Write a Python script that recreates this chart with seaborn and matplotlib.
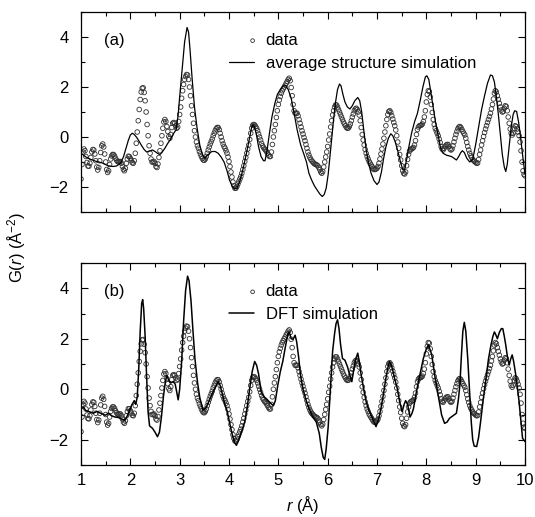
import numpy as np
import pandas as pd
import matplotlib
matplotlib.use('Agg')
import matplotlib.pyplot as plt
import seaborn as sns
from matplotlib.ticker import MultipleLocator
from matplotlib.collections import PathCollection
from matplotlib.legend_handler import HandlerPathCollection

# measured G(r), sampled every 0.02 A from 1.00 to 10.00
g_data = [
    -1.68, -1.10, -0.60, -0.48, -0.55, -0.78, -1.02, -1.16, -1.17, -1.05,
    -0.82, -0.60, -0.50, -0.52, -0.68, -0.95, -1.20, -1.32, -1.22, -0.95,
    -0.62, -0.35, -0.28, -0.40, -0.68, -1.00, -1.30, -1.42, -1.35, -1.10,
    -0.88, -0.76, -0.70, -0.70, -0.76, -0.85, -0.93, -0.98, -1.00, -0.98,
    -0.98, -1.05, -1.18, -1.30, -1.35, -1.25, -1.05, -0.88, -0.77, -0.78,
    -0.85, -0.95, -1.03, -1.05, -0.95, -0.65, -0.25, 0.20, 0.65, 1.10,
    1.50, 1.80, 1.95, 1.97, 1.78, 1.45, 1.00, 0.50, 0.05, -0.35,
    -0.65, -0.88, -1.00, -1.00, -0.98, -1.05, -1.18, -1.22, -1.08, -0.82,
    -0.55, -0.25, 0.05, 0.35, 0.60, 0.70, 0.62, 0.42, 0.22, 0.02,
    -0.05, 0.10, 0.38, 0.55, 0.58, 0.55, 0.45, 0.35, 0.40, 0.62,
    0.90, 1.20, 1.55, 1.85, 2.10, 2.30, 2.42, 2.50, 2.48, 2.30,
    2.00, 1.65, 1.25, 0.90, 0.55, 0.25, 0.00, -0.20, -0.35, -0.45,
    -0.58, -0.68, -0.78, -0.86, -0.92, -0.93, -0.88, -0.78, -0.65, -0.52,
    -0.40, -0.28, -0.18, -0.08, 0.05, 0.15, 0.25, 0.33, 0.38, 0.38,
    0.30, 0.15, 0.00, -0.15, -0.28, -0.38, -0.45, -0.55, -0.65, -0.80,
    -0.98, -1.18, -1.40, -1.60, -1.80, -1.95, -2.05, -2.05, -1.98, -1.88,
    -1.78, -1.68, -1.58, -1.45, -1.30, -1.15, -0.98, -0.82, -0.65, -0.48,
    -0.32, -0.10, 0.15, 0.35, 0.47, 0.50, 0.48, 0.42, 0.35, 0.25,
    0.12, 0.00, -0.12, -0.25, -0.35, -0.42, -0.48, -0.52, -0.58, -0.65,
    -0.72, -0.78, -0.78, -0.60, -0.30, 0.00, 0.25, 0.50, 0.78, 1.05,
    1.30, 1.48, 1.62, 1.75, 1.85, 1.93, 2.00, 2.07, 2.15, 2.22,
    2.30, 2.35, 2.25, 1.98, 1.65, 1.30, 1.05, 0.95, 0.95, 0.95,
    0.85, 0.70, 0.55, 0.40, 0.25, 0.12, -0.02, -0.15, -0.30, -0.45,
    -0.60, -0.72, -0.82, -0.90, -0.96, -1.00, -1.05, -1.08, -1.10, -1.12,
    -1.15, -1.22, -1.30, -1.40, -1.45, -1.38, -1.20, -1.00, -0.80, -0.60,
    -0.38, -0.12, 0.12, 0.40, 0.65, 0.88, 1.05, 1.20, 1.28, 1.28,
    1.20, 1.10, 1.00, 0.90, 0.80, 0.70, 0.60, 0.52, 0.45, 0.38,
    0.35, 0.36, 0.42, 0.52, 0.65, 0.80, 0.92, 1.05, 1.12, 1.15,
    1.10, 1.00, 0.88, 0.65, 0.38, 0.10, -0.12, -0.32, -0.50, -0.65,
    -0.78, -0.88, -0.98, -1.05, -1.12, -1.18, -1.25, -1.30, -1.30, -1.28,
    -1.25, -1.18, -1.05, -0.88, -0.68, -0.48, -0.28, -0.05, 0.20, 0.45,
    0.70, 0.90, 1.02, 1.05, 0.98, 0.85, 0.72, 0.58, 0.45, 0.28,
    0.05, -0.20, -0.45, -0.70, -0.92, -1.15, -1.35, -1.45, -1.48, -1.40,
    -1.15, -0.90, -0.70, -0.56, -0.50, -0.48, -0.45, -0.42, -0.32, -0.15,
    0.10, 0.30, 0.40, 0.45, 0.46, 0.48, 0.52, 0.62, 0.80, 1.05,
    1.40, 1.70, 1.85, 1.82, 1.60, 1.30, 0.98, 0.70, 0.50, 0.35,
    0.25, 0.15, 0.05, -0.08, -0.22, -0.38, -0.48, -0.52, -0.45, -0.38,
    -0.33, -0.30, -0.30, -0.38, -0.48, -0.52, -0.48, -0.35, -0.20, -0.05,
    0.10, 0.22, 0.33, 0.40, 0.42, 0.38, 0.30, 0.22, 0.15, 0.08,
    -0.05, -0.22, -0.38, -0.52, -0.65, -0.75, -0.82, -0.90, -0.95, -0.98,
    -1.02, -1.05, -1.04, -0.90, -0.70, -0.52, -0.32, -0.15, 0.02, 0.18,
    0.32, 0.45, 0.58, 0.70, 0.82, 0.95, 1.12, 1.30, 1.52, 1.75,
    1.85, 1.80, 1.65, 1.50, 1.35, 1.20, 1.08, 1.00, 1.02, 1.15,
    1.25, 1.22, 1.05, 0.80, 0.55, 0.32, 0.15, 0.08, 0.15, 0.35,
    0.45, 0.42, 0.32, 0.20, 0.05, -0.20, -0.55, -1.00, -1.35, -1.50,
    -1.55,
]
r_data = np.linspace(1.0, 10.0, len(g_data))

# average structure simulation (panel a)
avg_r = [1.00, 1.10, 1.20, 1.30, 1.42, 1.55, 1.65, 1.72, 1.80, 1.86, 1.92, 1.96,
         2.00, 2.04, 2.08, 2.13, 2.18, 2.23, 2.28, 2.33, 2.40, 2.45, 2.50, 2.55,
         2.60, 2.64, 2.70, 2.76, 2.82, 2.88, 2.93, 2.97, 3.00, 3.05, 3.10, 3.15,
         3.18, 3.21, 3.25, 3.30, 3.35, 3.41, 3.46, 3.51, 3.57, 3.65, 3.72, 3.78,
         3.84, 3.90, 3.96, 4.01, 4.06, 4.11, 4.16, 4.22, 4.27, 4.31, 4.37, 4.42,
         4.46, 4.49, 4.52, 4.56, 4.60, 4.65, 4.70, 4.73, 4.77, 4.82, 4.87, 4.93,
         4.98, 5.04, 5.10, 5.15, 5.20, 5.26, 5.32, 5.38, 5.45, 5.52, 5.57, 5.62,
         5.67, 5.73, 5.78, 5.84, 5.89, 5.93, 5.97, 6.01, 6.04, 6.08, 6.12, 6.16,
         6.20, 6.24, 6.27, 6.31, 6.35, 6.40, 6.45, 6.50, 6.55, 6.61, 6.65, 6.69,
         6.73, 6.78, 6.83, 6.88, 6.94, 7.00, 7.04, 7.09, 7.13, 7.18, 7.23, 7.28,
         7.32, 7.37, 7.42, 7.47, 7.52, 7.56, 7.60, 7.65, 7.70, 7.76, 7.82, 7.88,
         7.93, 7.98, 8.01, 8.05, 8.09, 8.14, 8.19, 8.24, 8.29, 8.34, 8.41, 8.51,
         8.61, 8.65, 8.70, 8.73, 8.77, 8.82, 8.88, 8.94, 9.00, 9.06, 9.12, 9.18,
         9.24, 9.30, 9.34, 9.38, 9.42, 9.46, 9.50, 9.54, 9.58, 9.61, 9.64, 9.68,
         9.72, 9.76, 9.79, 9.83, 9.87, 9.91, 9.95, 10.00]
avg_g = [-0.65, -0.80, -0.90, -0.97, -1.03, -1.15, -1.18, -1.16, -1.05, -0.80, -0.40, -0.13,
         0.08, 0.15, 0.10, -0.02, -0.18, -0.35, -0.50, -0.60, -0.55, -0.52, -0.58, -0.65,
         -0.70, -0.62, -0.45, -0.25, -0.08, 0.15, 0.30, 0.90, 1.60, 2.70, 3.80, 4.38,
         4.20, 3.50, 2.40, 1.20, 0.40, -0.35, -0.70, -0.85, -0.72, -0.58, -0.58, -0.65,
         -0.80, -1.00, -1.35, -1.72, -1.95, -2.08, -2.05, -1.75, -1.40, -1.05, -0.50, 0.00,
         0.40, 0.50, 0.40, 0.05, -0.40, -0.78, -0.95, -0.95, -0.55, 0.15, 0.80, 1.35,
         1.70, 1.90, 2.05, 2.05, 1.90, 1.55, 0.95, 0.30, -0.30, -0.70, -1.00, -1.45,
         -1.70, -1.95, -2.10, -2.28, -2.38, -2.30, -2.05, -1.50, -0.90, -0.10, 0.70, 1.40,
         1.90, 2.12, 2.05, 1.70, 1.40, 1.20, 1.12, 1.25, 1.45, 1.58, 1.45, 1.00,
         0.30, -0.50, -1.05, -1.45, -1.75, -1.90, -1.80, -1.40, -0.90, -0.40, -0.05, 0.13,
         0.05, -0.20, -0.55, -0.95, -1.30, -1.32, -0.90, -0.35, 0.15, 0.60, 0.95, 1.50,
         2.00, 2.40, 2.45, 2.30, 1.80, 1.15, 0.55, 0.05, -0.45, -0.65, -0.73, -0.78,
         -0.92, -0.80, -0.62, -0.55, -0.62, -0.85, -1.00, -0.90, -0.30, 0.40, 1.10, 1.65,
         2.15, 2.48, 2.45, 2.20, 1.60, 0.90, 0.10, -0.70, -1.20, -1.38, -1.10, -0.35,
         0.40, 0.90, 1.05, 1.02, 0.60, 0.00, -0.70, -1.50]

# DFT simulation (panel b)
dft_r = [1.00, 1.05, 1.10, 1.18, 1.25, 1.32, 1.40, 1.49, 1.56, 1.62, 1.69, 1.76,
         1.82, 1.89, 1.94, 1.99, 2.03, 2.08, 2.11, 2.14, 2.17, 2.20, 2.23, 2.25,
         2.27, 2.30, 2.33, 2.36, 2.39, 2.45, 2.50, 2.55, 2.59, 2.63, 2.67, 2.71,
         2.74, 2.78, 2.82, 2.87, 2.91, 2.94, 2.97, 3.00, 3.04, 3.08, 3.12, 3.16,
         3.19, 3.23, 3.27, 3.31, 3.36, 3.41, 3.47, 3.53, 3.60, 3.68, 3.74, 3.78,
         3.82, 3.86, 3.91, 3.96, 4.01, 4.06, 4.11, 4.15, 4.20, 4.26, 4.32, 4.37,
         4.42, 4.47, 4.52, 4.56, 4.60, 4.65, 4.71, 4.77, 4.84, 4.90, 4.94, 4.99,
         5.04, 5.09, 5.14, 5.19, 5.22, 5.26, 5.30, 5.34, 5.37, 5.41, 5.45, 5.50,
         5.57, 5.63, 5.70, 5.77, 5.83, 5.87, 5.91, 5.94, 5.97, 6.01, 6.04, 6.07,
         6.10, 6.14, 6.17, 6.20, 6.23, 6.26, 6.30, 6.35, 6.40, 6.45, 6.49, 6.53,
         6.57, 6.61, 6.64, 6.68, 6.73, 6.78, 6.83, 6.88, 6.93, 6.98, 7.03, 7.08,
         7.13, 7.18, 7.22, 7.25, 7.28, 7.31, 7.36, 7.41, 7.46, 7.51, 7.55, 7.58,
         7.62, 7.67, 7.71, 7.74, 7.79, 7.84, 7.90, 7.94, 8.00, 8.04, 8.08, 8.11,
         8.17, 8.24, 8.31, 8.37, 8.42, 8.47, 8.54, 8.61, 8.65, 8.68, 8.71, 8.74,
         8.77, 8.80, 8.84, 8.88, 8.91, 8.94, 8.97, 9.02, 9.06, 9.10, 9.16, 9.21,
         9.26, 9.31, 9.35, 9.38, 9.41, 9.44, 9.48, 9.52, 9.55, 9.58, 9.61, 9.65,
         9.68, 9.71, 9.74, 9.77, 9.81, 9.85, 9.88, 9.92, 9.95, 10.00]
dft_g = [-0.77, -0.72, -0.85, -0.90, -0.95, -0.88, -0.95, -1.03, -0.95, -1.05, -1.10, -1.12,
         -1.18, -1.23, -1.05, -0.80, -0.62, -0.45, -0.60, -0.30, 0.80, 2.30, 3.40, 3.55,
         3.20, 2.10, 0.50, -0.90, -1.45, -1.55, -1.70, -1.88, -1.70, -1.10, -0.30, 0.30,
         0.55, 0.35, 0.25, 0.30, 0.20, -0.10, -0.42, 0.00, 1.10, 2.70, 3.90, 4.48,
         4.30, 3.50, 2.30, 1.20, 0.30, -0.36, -0.82, -0.75, -0.45, -0.09, 0.15, 0.30,
         0.15, -0.15, -0.55, -0.85, -1.30, -1.75, -2.10, -2.22, -2.00, -1.65, -1.28, -0.70,
         0.04, 0.70, 1.10, 0.95, 0.60, -0.09, -0.30, -0.40, -0.55, -0.65, -0.45, 0.17,
         0.70, 1.10, 1.65, 2.16, 2.27, 2.00, 1.98, 2.14, 1.90, 1.30, 0.55, 0.00,
         -0.49, -0.80, -1.10, -1.30, -1.75, -2.30, -2.70, -2.78, -2.36, -1.50, -0.49, 0.50,
         1.50, 2.20, 2.60, 2.75, 2.40, 1.80, 1.22, 1.15, 0.90, 0.55, 0.30, 0.80,
         1.20, 1.43, 1.10, 0.56, 0.00, -0.49, -0.80, -1.02, -1.25, -1.48, -1.20, -0.76,
         -0.20, 0.43, 0.85, 1.10, 1.00, 0.83, 0.40, 0.04, -0.50, -0.89, -0.60, -0.45,
         -0.60, -1.10, -0.95, -0.76, -0.20, 0.30, 0.85, 1.22, 1.60, 1.75, 1.55, 1.36,
         0.56, -0.23, -1.02, -1.35, -1.30, -1.15, -1.05, -0.95, -0.40, 0.17, 1.30, 2.30,
         2.65, 2.30, 1.20, -0.20, -1.28, -2.00, -2.25, -2.27, -1.90, -1.28, -0.30, 0.43,
         1.20, 1.75, 2.10, 2.27, 2.15, 2.00, 2.25, 2.40, 2.40, 2.10, 1.75, 1.20,
         0.96, 1.20, 1.36, 1.10, 0.60, 0.00, -0.49, -1.30, -1.94, -2.07]

y_ticks = [-2, 0, 2, 4]

sns.set_style('ticks')
plt.rcParams['font.family'] = ['Liberation Sans', 'DejaVu Sans']
plt.rcParams['mathtext.fontset'] = 'custom'
plt.rcParams['mathtext.rm'] = 'Liberation Sans'
plt.rcParams['mathtext.it'] = 'Liberation Sans:italic'
for key in ['text.color', 'axes.labelcolor', 'xtick.color', 'ytick.color']:
    plt.rcParams[key] = 'black'


# legend marker for the data sits at the right end of the handle box
class RightMarker(HandlerPathCollection):
    def get_xdata(self, legend, xdescent, ydescent, width, height, fontsize):
        x = [-xdescent + width * 0.95]
        return x, x


W, H = 535, 517
fig = plt.figure(figsize=(W / 100, H / 100), dpi=100)
ax_a = fig.add_axes([81 / W, 1 - 212 / H, 444 / W, 200 / H])
ax_b = fig.add_axes([81 / W, 1 - 465 / H, 444 / W, 202 / H])

data_df = pd.DataFrame({'r': r_data, 'G': g_data})


def draw_panel(ax, sim_r, sim_g, sim_label, sim_lw, tag):
    sns.scatterplot(data=data_df, x='r', y='G', ax=ax, marker='o', s=11,
                    facecolor='none', edgecolor='#303030', linewidth=0.6,
                    label='data', zorder=2)
    sns.lineplot(x=sim_r, y=sim_g, ax=ax, color='black', lw=sim_lw,
                 estimator=None, sort=False, label=sim_label, zorder=3)
    ax.set_xlim(1, 10)
    ax.set_ylim(-3, 5)
    ax.set_yticks(y_ticks)
    ax.xaxis.set_major_locator(MultipleLocator(1))
    ax.xaxis.set_minor_locator(MultipleLocator(0.5))
    ax.yaxis.set_minor_locator(MultipleLocator(1))
    ax.tick_params(which='both', direction='in', top=True, right=True,
                   width=0.8, labelsize=12)
    ax.tick_params(which='major', length=5)
    ax.tick_params(which='minor', length=3)
    ax.tick_params(axis='y', pad=9)
    ax.tick_params(axis='x', pad=6)
    for s in ax.spines.values():
        s.set_linewidth(0.9)
        s.set_color('black')
    ax.set_xlabel('')
    ax.set_ylabel('')
    ax.text(0.052, 0.86, tag, transform=ax.transAxes, fontsize=12, va='center')
    ax.legend(loc='upper left', bbox_to_anchor=(0.333, 0.895), frameon=False,
              fontsize=12, handlelength=1.5, handletextpad=0.7, borderpad=0,
              borderaxespad=0, labelspacing=0.45, scatterpoints=1,
              markerscale=0.8, handler_map={PathCollection: RightMarker()})


draw_panel(ax_a, avg_r, avg_g, 'average structure simulation', 0.9, '(a)')
draw_panel(ax_b, dft_r, dft_g, 'DFT simulation', 1.1, '(b)')
ax_a.tick_params(labelbottom=False)

fig.text(17 / W, 1 - 247 / H, r'G($r$) (Å$^{-2}$)', rotation=90,
         ha='center', va='center', fontsize=12)
fig.text(303 / W, 1 - 505 / H, r'$r$ (Å)', ha='center', va='center', fontsize=12)

fig.savefig('out.png', dpi=100)
